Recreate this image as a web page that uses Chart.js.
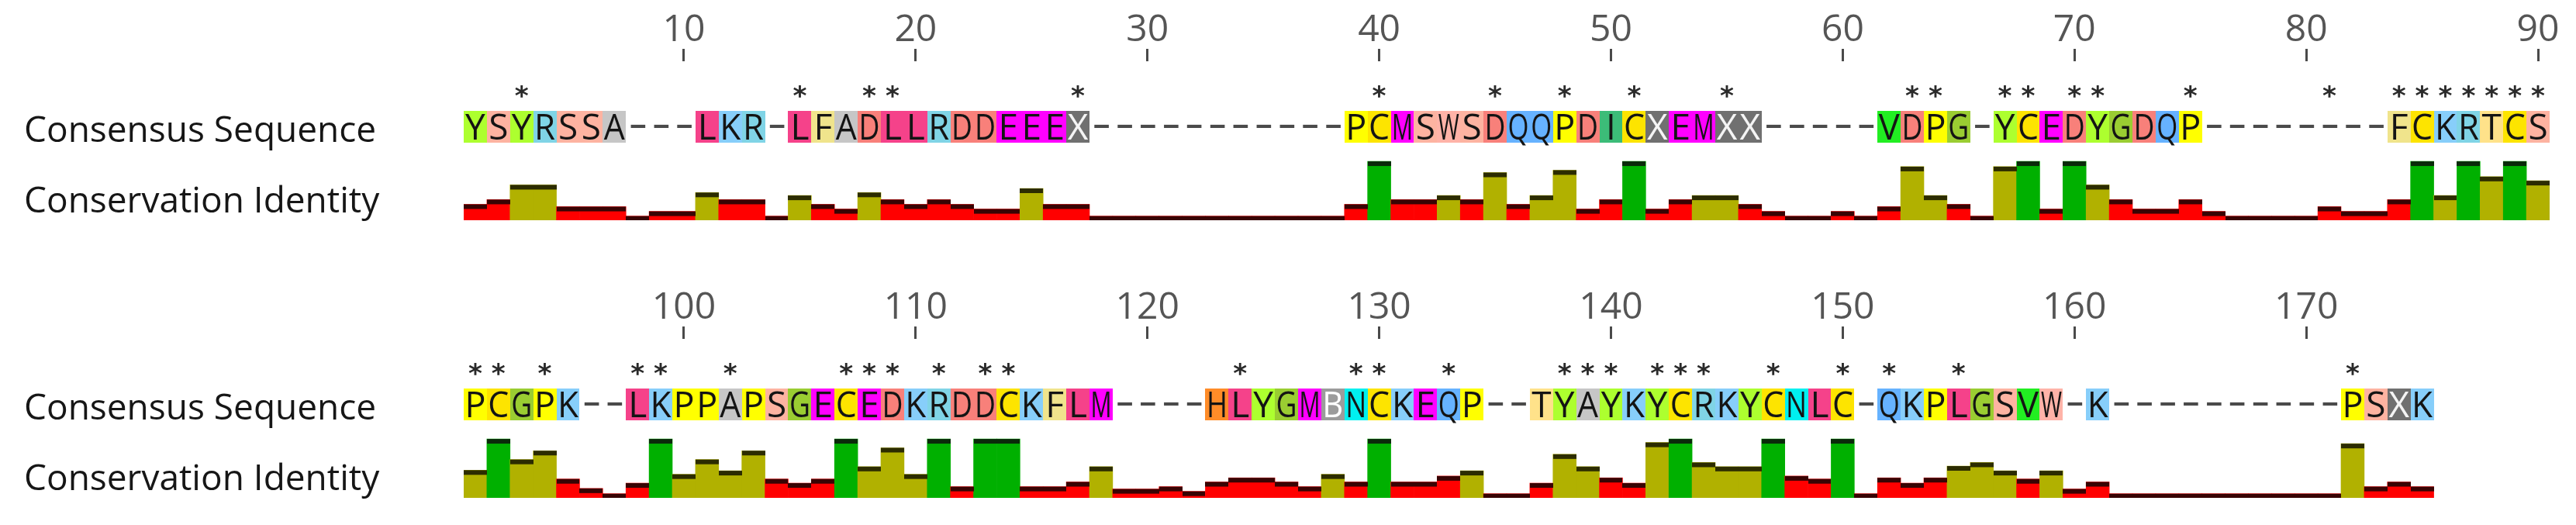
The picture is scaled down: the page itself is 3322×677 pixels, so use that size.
<!DOCTYPE html>
<html><head><meta charset="utf-8">
<script src="https://cdn.jsdelivr.net/npm/chart.js@4.4.1/dist/chart.umd.min.js"></script>
<style>
html,body{margin:0;padding:0;background:#fff;}
#wrap{position:relative;width:3322px;height:677px;overflow:hidden;background:#fff;}
canvas{position:absolute;left:0;}
</style></head><body>
<div id="wrap">
<canvas id="row1" width="3322" height="310" style="top:0px"></canvas>
<canvas id="row2" width="3322" height="310" style="top:358px"></canvas>
</div>
<script>
// ---------- data ----------
const ROW_LABELS = ['Consensus Sequence', 'Conservation Identity'];
const COLUMNS_PER_ROW = 90;

const ROW1_START = 1;
const ROW1_SEQUENCE = 'YSYRSSA---LKR-LFADLLRDDEEEX-----------PCMSWSDQQPDICXEMXX-----VDPG-YCEDYGDQP--------FCKRTCS'.split('');
const ROW1_IDENTITY = [
  27, 35, 60, 60, 23, 23, 23, 7, 15, 15,
  47, 35, 35, 7, 42, 27, 19, 47, 35, 27,
  35, 27, 19, 19, 54, 27, 27, 7, 7, 7,
  7, 7, 7, 7, 7, 7, 7, 7, 27, 100,
  35, 35, 42, 35, 81, 27, 42, 85, 19, 35,
  100, 19, 35, 42, 42, 27, 15, 7, 7, 15,
  7, 23, 91, 42, 27, 7, 91, 100, 19, 100,
  60, 35, 19, 19, 35, 15, 7, 7, 7, 7,
  23, 15, 15, 35, 100, 42, 100, 74, 100, 67
];
const ROW1_STARS = [3, 15, 18, 19, 27, 40, 45, 48, 51, 55, 63, 64, 67, 68, 70, 71, 75, 81, 84, 85, 86, 87, 88, 89, 90];

const ROW2_START = 91;
const ROW2_SEQUENCE = 'PCGPK--LKPPAPSGECEDKRDDCKFLM----HLYGMBNCKEQP--TYAYKYCRKYCNLC-QKPLGSVW-K----------PSXK'.split('');
const ROW2_IDENTITY = [
  47, 100, 65, 80, 32, 16, 7, 25, 100, 40,
  65, 46, 80, 32, 25, 32, 100, 53, 85, 40,
  100, 19, 100, 100, 19, 19, 27, 53, 15, 15,
  19, 11, 27, 34, 34, 27, 19, 40, 27, 100,
  27, 27, 37, 46, 7, 7, 25, 74, 53, 34,
  25, 94, 100, 60, 53, 53, 100, 37, 32, 100,
  7, 34, 25, 34, 54, 60, 46, 32, 46, 15,
  27, 7, 7, 7, 7, 7, 7, 7, 7, 7,
  7, 92, 19, 27, 19
];
const ROW2_STARS = [91, 92, 94, 98, 99, 102, 107, 108, 109, 111, 113, 114, 124, 129, 130, 133, 138, 139, 140, 142, 143, 144, 147, 150, 152, 155, 172];

// ---------- styles ----------
const RESIDUE_COLORS = {
  A: '#c6c6c6', B: '#9c9c9c', C: '#fde400', D: '#f8807a', E: '#ff00ff', F: '#f0e48c',
  G: '#9acd32', H: '#ff8c28', I: '#3cbc78', K: '#87cefa', L: '#f5428a', M: '#ff00ff',
  N: '#00f0f0', P: '#ffff00', Q: '#66b2ff', R: '#80d4e6', S: '#fdb3a1', T: '#ffe28a',
  V: '#22ee22', W: '#ffb3a8', X: '#707070', Y: '#adff2f'
};
const LIGHT_TEXT = { X: '#f4f4f4', B: '#ffffff' };
const GREEN = '#00b000', OLIVE = '#b1b100', RED = '#ff0000';
const CAP_GREEN = '#0a2a0a', CAP_OLIVE = '#2c2c00', CAP_RED = '#380404';
function idColor(v) { return v >= 100 ? GREEN : (v >= 39 ? OLIVE : RED); }
function capColor(v) { return v >= 100 ? CAP_GREEN : (v >= 39 ? CAP_OLIVE : CAP_RED); }

const FONT = '"Open Sans", "DejaVu Sans", sans-serif';
// layout offsets (px, relative to chart area top)
const BOX_TOP = 64, BOX_H = 41, LETTER_BASE = 101, STAR_MID = 38, DASH_MID = 83;
const LABEL1_BASE = 104, LABEL2_BASE = 195;
const CAP_PX = 6;

function drawCentered(ctx, text, cx, cy, font, color, targetW, targetH) {
  ctx.save();
  ctx.font = font;
  ctx.textAlign = 'left';
  ctx.textBaseline = 'alphabetic';
  const m = ctx.measureText(text);
  const w = m.actualBoundingBoxLeft + m.actualBoundingBoxRight;
  const h = m.actualBoundingBoxAscent + m.actualBoundingBoxDescent;
  const sx = targetW ? targetW / w : 1;
  const sy = targetH ? targetH / h : 1;
  ctx.translate(cx, cy);
  ctx.scale(sx, sy);
  ctx.fillStyle = color;
  ctx.fillText(text, -(m.actualBoundingBoxRight - m.actualBoundingBoxLeft) / 2,
    (m.actualBoundingBoxAscent - m.actualBoundingBoxDescent) / 2);
  ctx.restore();
}

const capPlugin = {
  id: 'caps',
  afterDatasetsDraw(chart) {
    const ctx = chart.ctx;
    const meta = chart.getDatasetMeta(0);
    const data = chart.data.datasets[0].data;
    ctx.save();
    meta.data.forEach((el, i) => {
      const p = el.getProps(['x', 'y', 'base', 'width'], true);
      const h = Math.min(CAP_PX, p.base - p.y);
      ctx.fillStyle = capColor(data[i]);
      const l = Math.round(p.x - p.width / 2), r = Math.round(p.x + p.width / 2);
      ctx.fillRect(l, p.y, r - l, h);
    });
    ctx.restore();
  }
};

const trackPlugin = {
  id: 'tracks',
  afterDraw(chart, args, opts) {
    const ctx = chart.ctx;
    const top = chart.chartArea.top;
    const xs = chart.scales.x;
    const colW = xs.getPixelForValue(1) - xs.getPixelForValue(0);
    const seq = opts.sequence;
    ctx.save();
    // residue boxes
    seq.forEach((r, i) => {
      if (r === '-') return;
      const cx = xs.getPixelForValue(i);
      const l = Math.round(cx - colW / 2), rr = Math.round(cx + colW / 2);
      ctx.fillStyle = RESIDUE_COLORS[r] || '#ccc';
      ctx.fillRect(l, top + BOX_TOP, rr - l, BOX_H);
    });
    // letters
    ctx.font = '46px ' + FONT;
    ctx.textBaseline = 'alphabetic';
    ctx.textAlign = 'center';
    seq.forEach((r, i) => {
      const cx = xs.getPixelForValue(i);
      if (r === '-') {
        drawCentered(ctx, '-', cx, top + DASH_MID, '46px ' + FONT, '#4a4a4a', 20, 5);
        return;
      }
      const w = ctx.measureText(r).width;
      const s = w > 27 ? 27 / w : 1;
      ctx.save();
      ctx.translate(cx, top + LETTER_BASE);
      ctx.scale(s, 1);
      ctx.fillStyle = LIGHT_TEXT[r] || '#141414';
      ctx.fillText(r, 0, 0);
      ctx.restore();
    });
    // conservation stars
    opts.stars.forEach(pos => {
      const cx = xs.getPixelForValue(pos - opts.start);
      drawCentered(ctx, '*', cx, top + STAR_MID, 'bold 40px "DejaVu Sans", sans-serif', '#2a2a2a', 18, 17);
    });
    // row labels
    ctx.font = '46px ' + FONT;
    ctx.textAlign = 'left';
    ctx.fillStyle = '#161616';
    ctx.fillText(ROW_LABELS[0], 31, top + LABEL1_BASE);
    ctx.fillText(ROW_LABELS[1], 31, top + LABEL2_BASE);
    ctx.restore();
  }
};

function makeRow(canvasId, start, sequence, identity, stars) {
  const labels = [];
  for (let i = 0; i < COLUMNS_PER_ROW; i++) labels.push(String(start + i));
  return new Chart(document.getElementById(canvasId), {
    type: 'bar',
    data: {
      labels,
      datasets: [{
        data: identity,
        backgroundColor: identity.map(idColor),
        borderWidth: 0,
        barPercentage: 1,
        categoryPercentage: 1
      }]
    },
    options: {
      responsive: false,
      animation: false,
      devicePixelRatio: 1,
      layout: { padding: { left: 598, right: 34, top: 0, bottom: 26 } },
      plugins: {
        legend: { display: false },
        tooltip: { enabled: false },
        tracks: { sequence, stars, start }
      },
      scales: {
        x: {
          type: 'category',
          position: 'top',
          offset: true,
          border: { display: false },
          grid: {
            offset: false,
            drawOnChartArea: false,
            drawTicks: true,
            tickLength: 16,
            tickWidth: 3,
            tickColor: c => ((start + c.index) % 10 === 0 && c.index < sequence.length) ? '#4a4a4a' : 'rgba(0,0,0,0)'
          },
          ticks: {
            autoSkip: false,
            maxRotation: 0,
            minRotation: 0,
            padding: 0,
            color: '#555555',
            font: { family: FONT, size: 48, lineHeight: 1 },
            callback: (v, i) => ((start + i) % 10 === 0 && i < sequence.length) ? String(start + i) : ''
          },
          afterFit: s => { s.height = 79; }
        },
        y: {
          display: false,
          min: 0,
          max: 270
        }
      }
    },
    plugins: [capPlugin, trackPlugin]
  });
}

makeRow('row1', ROW1_START, ROW1_SEQUENCE, ROW1_IDENTITY, ROW1_STARS);
makeRow('row2', ROW2_START, ROW2_SEQUENCE, ROW2_IDENTITY, ROW2_STARS);
</script>
</body></html>
